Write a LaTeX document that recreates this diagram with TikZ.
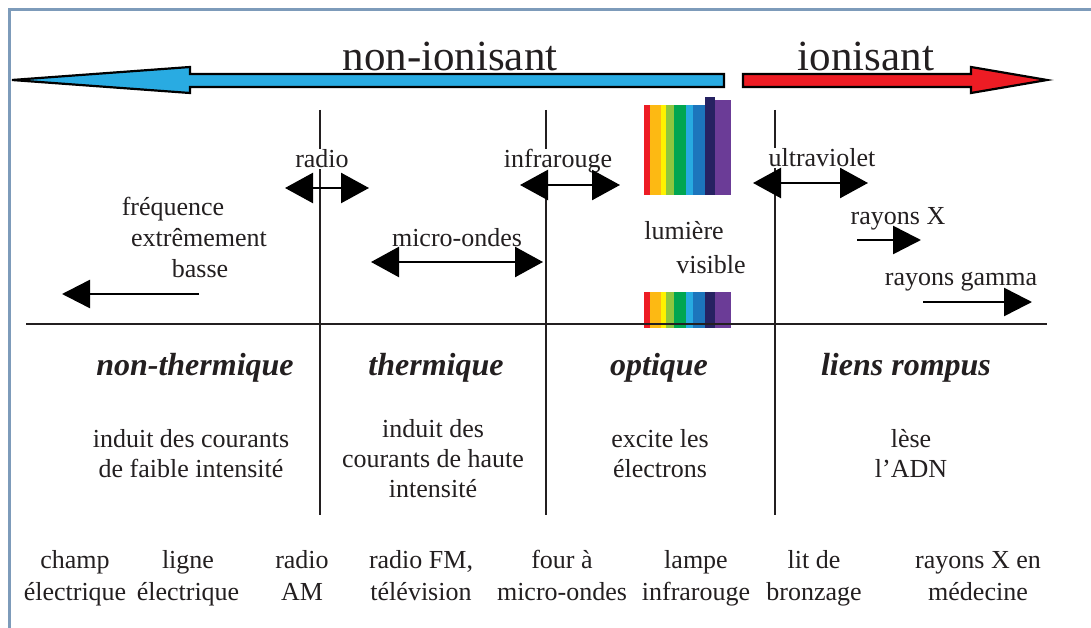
\documentclass[tikz,border=0pt]{standalone}
\usepackage{fontspec}
\setmainfont{Liberation Serif}
\usetikzlibrary{arrows.meta}
\definecolor{framec}{HTML}{7D9BBA}
\definecolor{ink}{HTML}{231F20}
\definecolor{bluear}{HTML}{29ABE2}
\definecolor{redar}{HTML}{ED1C24}
\definecolor{spR}{HTML}{ED1C24}
\definecolor{spO}{HTML}{FDB913}
\definecolor{spY}{HTML}{FFF200}
\definecolor{spLG}{HTML}{8DC63F}
\definecolor{spG}{HTML}{00A651}
\definecolor{spC}{HTML}{27AAE1}
\definecolor{spB}{HTML}{1C75BC}
\definecolor{spN}{HTML}{262262}
\definecolor{spP}{HTML}{6B3C97}
\tikzset{
  lbl/.style={font=\fontsize{26}{31}\selectfont, text=ink, inner sep=1pt, anchor=base, align=center},
  cut/.style={lbl, fill=white},
  head/.style={font=\fontsize{32}{36}\selectfont\bfseries\itshape, text=ink, inner sep=1pt, anchor=base},
  ttl/.style={font=\fontsize{43}{48}\selectfont, text=ink, inner sep=1pt, anchor=base},
  divider/.style={line width=2.5pt, draw=ink},
  dbl/.style={line width=2.5pt, draw=black, {Triangle[length=28pt,width=30pt]}-{Triangle[length=28pt,width=30pt]}},
  sgl/.style={line width=2.5pt, draw=black, -{Triangle[length=28pt,width=28pt]}},
  bigar/.style={line width=2.2pt, draw=black, line join=miter},
  desc/.style={lbl, font=\fontsize{26}{30}\selectfont},
  examp/.style={lbl, font=\fontsize{26}{32}\selectfont}
}
\begin{document}
\begin{tikzpicture}[x=1pt,y=-1pt]
\useasboundingbox (0,0) rectangle (1091,628);
\fill[white] (0,0) rectangle (1091,628);
% frame
\draw[framec, line width=3pt] (9,628) -- (9,10) -- (1091,10);

% big arrows
\draw[bigar, fill=bluear] (12,80) -- (190,67) -- (190,74) -- (724,74) -- (724,87) -- (190,87) -- (190,93) -- cycle;
\draw[bigar, fill=redar] (743,74) -- (971,74) -- (971,67) -- (1047,80) -- (971,93) -- (971,87) -- (743,87) -- cycle;
\node[ttl] (nonion) at (450,71) {non-ionisant};
\node[ttl] (ion) at (866,71) {ionisant};

% spectrum blocks
\foreach \a/\b/\c in {644/650/spR,650/661/spO,661/666/spY,666/674/spLG,674/686/spG,686/693/spC,693/705/spB,705/715/spN,715/731/spP}{
  \fill[\c] (\a,292) rectangle (\b,328);
}
\foreach \a/\b/\c in {644/650/spR,650/661/spO,661/666/spY,666/674/spLG,674/686/spG,686/693/spC,693/705/spB}{
  \fill[\c] (\a,105) rectangle (\b,195);
}
\fill[spN] (705,97) rectangle (715,195);
\fill[spP] (715,100) rectangle (731,195);

% dividers and axis
\coordinate (v1t) at (320,110); \coordinate (v1b) at (320,515);
\coordinate (v2t) at (546,110); \coordinate (v2b) at (546,515);
\coordinate (v3t) at (775,110); \coordinate (v3b) at (775,515);
\coordinate (axl) at (26,324); \coordinate (axr) at (1047,324);
\draw[divider] (v1t) -- (v1b);
\draw[divider] (v2t) -- (v2b);
\draw[divider] (v3t) -- (v3b);
\draw[divider] (axl) -- (axr);

% band labels
\node[cut] (radio) at (322,168) {radio};
\node[cut] (infra) at (558,168) {infrarouge};
\node[cut] (uv) at (822,167) {ultraviolet};
\node[lbl] (micro) at (457,247) {micro-ondes};
\node[lbl] (rx) at (898,225) {rayons X};
\node[lbl] (rg) at (961,285) {rayons gamma};
\node[lbl] (lum) at (684,240) {lumière};
\node[lbl] (vis) at (711,273) {visible};
\node[lbl] (freq) at (173,215) {fréquence};
\node[lbl] (extr) at (199,247) {extrêmement};
\node[lbl] (bas) at (200,277) {basse};

% band arrows
\coordinate (ra1) at (285,188); \coordinate (ra2) at (369,188);
\coordinate (ir1) at (520,185); \coordinate (ir2) at (620,185);
\coordinate (mo1) at (371,262); \coordinate (mo2) at (543,262);
\coordinate (uv1) at (753,183); \coordinate (uv2) at (868,183);
\coordinate (rx1) at (857,240); \coordinate (rx2) at (921,240);
\coordinate (rg1) at (923,302); \coordinate (rg2) at (1032,302);
\coordinate (fq1) at (199,294); \coordinate (fq2) at (62,294);
\draw[dbl] (ra1) -- (ra2);
\draw[dbl] (ir1) -- (ir2);
\draw[dbl] (mo1) -- (mo2);
\draw[dbl] (uv1) -- (uv2);
\draw[sgl] (rx1) -- (rx2);
\draw[sgl] (rg1) -- (rg2);
\draw[sgl] (fq1) -- (fq2);

% effect headers
\node[head] (h1) at (195,375) {non-thermique};
\node[head] (h2) at (436,375) {thermique};
\node[head] (h3) at (659,375) {optique};
\node[head] (h4) at (906,375) {liens rompus};

% effect descriptions (base anchor = last line)
\node[desc] (d1) at (191,477) {induit des courants\\de faible intensité};
\node[desc] (d2) at (433,497) {induit des\\courants de haute\\intensité};
\node[desc] (d3) at (660,477) {excite les\\électrons};
\node[desc] (d4) at (911,477) {lèse\\l’ADN};

% examples
\node[examp] (e1) at (75,600) {champ\\électrique};
\node[examp] (e2) at (188,600) {ligne\\électrique};
\node[examp] (e3) at (302,600) {radio\\AM};
\node[examp] (e4) at (421,600) {radio FM,\\télévision};
\node[examp] (e5) at (562,600) {four à\\micro-ondes};
\node[examp] (e6) at (696,600) {lampe\\infrarouge};
\node[examp] (e7) at (814,600) {lit de\\bronzage};
\node[examp] (e8) at (978,600) {rayons X en\\médecine};
\end{tikzpicture}
\end{document}
